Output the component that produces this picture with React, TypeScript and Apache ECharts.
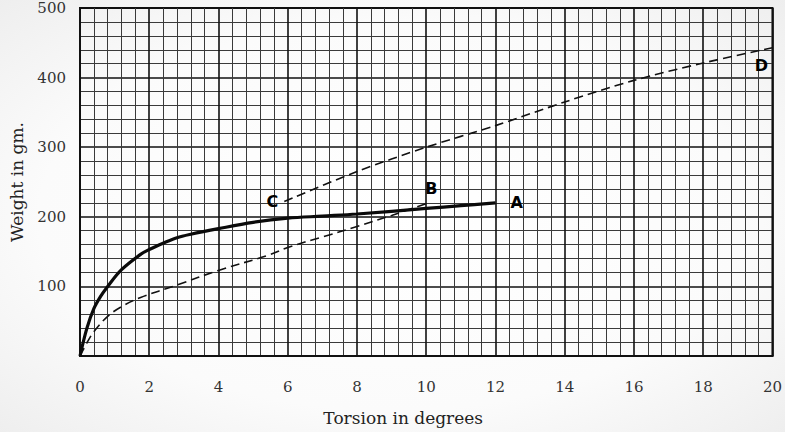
import React, { useEffect, useRef } from "react";
import * as echarts from "echarts";

// Curve A (solid): torsion (deg) vs weight (gm)
const curveA_x = [0, 0.2, 0.4, 0.6, 0.8, 1.2, 1.75, 2, 2.4, 2.8, 3.2, 4, 5, 6, 7, 8, 10, 11, 12];
const curveA_y = [0, 40, 68, 86, 100, 124, 146, 153, 162, 170, 175, 183, 192, 198, 201, 204, 212, 216, 220];

// Curve B (dashed, from origin)
const curveB_x = [0, 0.2, 0.4, 0.8, 1.2, 1.75, 2.8, 4, 5.45, 6, 7, 8, 9, 10];
const curveB_y = [0, 19, 35, 57, 71, 84, 102, 123, 145, 156, 171, 186, 202, 219];

// Curve C–D (dashed)
const curveCD_x = [5.9, 8, 10, 12, 14, 16, 18, 20];
const curveCD_y = [222, 265, 300, 331, 365, 396, 421, 443];

const xTicks = [0, 2, 4, 6, 8, 10, 12, 14, 16, 18, 20];
const yTicks = [100, 200, 300, 400, 500];

const zip = (xs: number[], ys: number[]) => xs.map((x, i) => [x, ys[i]]);

export default function App() {
  const ref = useRef<HTMLDivElement>(null);
  useEffect(() => {
    if (!ref.current) return;
    const chart = echarts.init(ref.current, null, { renderer: "svg" });
    const serif = "DejaVu Serif";
    const letterStyle = {
      show: true,
      fontFamily: "DejaVu Sans",
      fontWeight: "bold" as const,
      fontSize: 16,
      color: "#000",
      opacity: 1,
    };
    const lastA = curveA_x.length - 1;
    const lastB = curveB_x.length - 1;
    const lastD = curveCD_x.length - 1;
    chart.setOption({
      animation: false,
      backgroundColor: {
        type: "radial",
        x: 0.5,
        y: 0.5,
        r: 0.75,
        colorStops: [
          { offset: 0, color: "#ffffff" },
          { offset: 0.6, color: "#fbfbfb" },
          { offset: 1, color: "#ececec" },
        ],
      },
      grid: {
        left: 79,
        right: 10,
        top: 8,
        bottom: 76,
        show: true,
        borderColor: "#111",
        borderWidth: 2,
        backgroundColor: "transparent",
      },
      xAxis: {
        type: "value",
        min: xTicks[0],
        max: xTicks[xTicks.length - 1],
        interval: 2,
        name: "Torsion in degrees",
        nameLocation: "middle",
        nameGap: 53,
        nameTextStyle: {
          fontFamily: serif,
          fontSize: 17,
          color: "#222",
          padding: [0, 46, 0, 0],
        },
        axisLine: { show: true, lineStyle: { color: "#111", width: 2 } },
        axisTick: { show: false },
        minorTick: { show: false, splitNumber: 5 },
        axisLabel: {
          margin: 23,
          fontFamily: serif,
          fontSize: 15,
          color: "#333",
        },
        splitLine: { show: true, lineStyle: { color: "#111", width: 1.6 } },
        minorSplitLine: { show: true, lineStyle: { color: "#3a3a3a", width: 1 } },
      },
      yAxis: {
        type: "value",
        min: 0,
        max: yTicks[yTicks.length - 1],
        interval: 100,
        name: "Weight in gm.",
        nameLocation: "middle",
        nameGap: 55,
        nameTextStyle: { fontFamily: serif, fontSize: 17, color: "#222" },
        axisLine: { show: true, lineStyle: { color: "#111", width: 2 } },
        axisTick: { show: false },
        minorTick: { show: false, splitNumber: 5 },
        axisLabel: {
          margin: 14,
          fontFamily: serif,
          fontSize: 15,
          color: "#333",
          padding: [7, 0, 0, 0],
          formatter: (v: number) => (yTicks.includes(v) ? String(v) : ""),
        },
        splitLine: { show: true, lineStyle: { color: "#111", width: 1.6 } },
        minorSplitLine: { show: true, lineStyle: { color: "#3a3a3a", width: 1 } },
      },
      series: [
        {
          name: "A",
          type: "line",
          data: zip(curveA_x, curveA_y),
          smooth: 0.35,
          showSymbol: false,
          lineStyle: { color: "#0a0a0a", width: 3.2 },
          z: 4,
        },
        {
          name: "B",
          type: "line",
          data: zip(curveB_x, curveB_y),
          smooth: 0.35,
          showSymbol: false,
          lineStyle: { color: "#111", width: 1.6, type: [9, 5] },
          z: 3,
        },
        {
          name: "CD",
          type: "line",
          data: zip(curveCD_x, curveCD_y),
          smooth: 0.3,
          showSymbol: false,
          lineStyle: { color: "#111", width: 1.6, type: [9, 5] },
          z: 3,
        },
        {
          name: "labels",
          type: "scatter",
          symbolSize: 0,
          silent: true,
          itemStyle: { opacity: 1 },
          z: 5,
          data: [
            {
              value: [curveA_x[lastA], curveA_y[lastA]],
              label: { ...letterStyle, formatter: "A", position: "right", distance: 15 },
            },
            {
              value: [curveB_x[lastB], curveB_y[lastB]],
              label: { ...letterStyle, formatter: "B", position: "top", distance: 7, offset: [5, 0] },
            },
            {
              value: [curveCD_x[0], curveCD_y[0]],
              label: { ...letterStyle, formatter: "C", position: "left", distance: 6 },
            },
            {
              value: [curveCD_x[lastD], curveCD_y[lastD]],
              label: { ...letterStyle, formatter: "D", position: "bottom", distance: 10, offset: [-11, 0] },
            },
          ],
        },
      ],
    });
    return () => chart.dispose();
  }, []);
  return (
    <div
      ref={ref}
      style={{ position: "absolute", left: 0, top: 0, width: 785, height: 432 }}
    />
  );
}
